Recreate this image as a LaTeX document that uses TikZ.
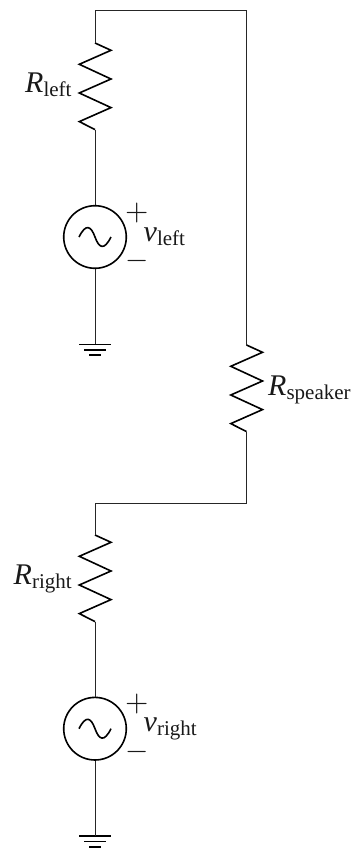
\documentclass[tikz,border=0pt]{standalone}
\usepackage{graphicx}
\usepackage{fontspec}
\setmainfont{Liberation Serif}
\usetikzlibrary{calc}
\newcommand{\lab}[2]{{\fontsize{30}{30}\selectfont\itshape #1}\raisebox{-4.2pt}{\fontsize{21}{21}\selectfont #2}}
\tikzset{
  x=1pt,y=-1pt,
  wire/.style={line width=0.95pt,black!85,line join=miter},
  comp/.style={line width=1.6pt,black,line join=miter},
  srcbox/.style={circle,draw,line width=1.6pt,minimum size=62.6pt,inner sep=0pt},
  txt/.style={inner sep=0pt,anchor=base west,text=black!90},
  pm/.style={inner sep=0pt,anchor=center,text=black!90}
}
\newcommand{\resist}[3]{% name, x, top y
  \coordinate (#1a) at (#2,#3);
  \coordinate (#1b) at (#2,#3+86.6);
  \draw[comp] (#1a) -- ++(16,7.3) -- ++(-31.7,14) -- ++(31.7,14.7) -- ++(-31.7,14) -- ++(31.7,14.6) -- ++(-31.7,14) -- (#1b);
}
\newcommand{\source}[3]{% name, x, centre y
  \node[srcbox] (#1) at (#2,#3) {};
  \draw[comp] (#2-16,#3) .. controls (#2-9,#3-14) and (#2-4,#3-11) .. (#2,#3) .. controls (#2+4,#3+11) and (#2+9,#3+14) .. (#2+16,#3);
}
\newcommand{\earth}[3]{% name, x, top y
  \coordinate (#1) at (#2,#3);
  \draw[comp] (#2-16,#3) -- (#2+16,#3);
  \draw[comp] (#2-11,#3+5.4) -- (#2+11,#3+5.4);
  \draw[comp] (#2-6,#3+10.8) -- (#2+6,#3+10.8);
}
\begin{document}
\begin{tikzpicture}
\useasboundingbox (0,0) rectangle (351,849);
\resist{rl}{95}{43}
\resist{rs}{246.5}{345}
\resist{rr}{95}{535}
\source{vl}{95}{237}
\source{vr}{95}{728.7}
\earth{gl}{95}{344.3}
\earth{gr}{95}{836}
\coordinate (tl) at (95,10);
\coordinate (tr) at (246.5,10);
\coordinate (ml) at (95,503);
\coordinate (mr) at (246.5,503);
\draw[wire] (rla) -- (tl) -- (tr) -- (rsa);
\draw[wire] (rsb) -- (mr) -- (ml) -- (rra);
\draw[wire] (rlb) -- (vl.north);
\draw[wire] (vl.south) -- (gl);
\draw[wire] (rrb) -- (vr.north);
\draw[wire] (vr.south) -- (gr);
\node[txt] (lrl) at (25,92.5) {\lab{R}{left}};
\node[txt] (lrs) at (268,395) {\lab{R}{speaker}};
\node[txt] (lrr) at (13.5,584) {\lab{R}{right}};
\node[txt] (lvl) at (143.5,241) {\lab{v}{left}};
\node[txt] (lvr) at (143.5,731) {\lab{v}{right}};
\node[pm] (pl) at (136.7,212.7) {\scalebox{3}{$+$}};
\node[pm] (ml2) at (136.7,261.3) {\scalebox{3}{$-$}};
\node[pm] (pr) at (136.7,704.2) {\scalebox{3}{$+$}};
\node[pm] (mr2) at (136.7,752.3) {\scalebox{3}{$-$}};
\end{tikzpicture}
\end{document}
